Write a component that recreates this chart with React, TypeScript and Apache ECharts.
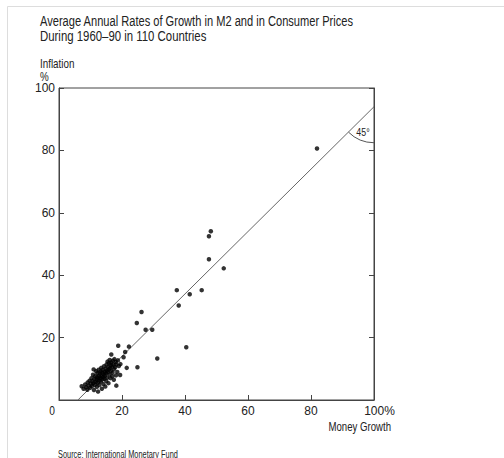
import React, { useEffect, useRef } from "react";
import * as echarts from "echarts";

const FONT = "'Liberation Sans', Arial, sans-serif";

const titleLines = [
  "Average Annual Rates of Growth in M2 and in Consumer Prices",
  "During 1960\u201390 in 110 Countries",
];
const yAxisTitle = ["Inflation", "%"];
const xAxisTitle = "Money Growth";
const sourceText = "Source: International Monetary Fund";
const angleLabel = "45\u00b0";

const xTicks = [0, 20, 40, 60, 80, 100];
const yTicks = [0, 20, 40, 60, 80, 100];

// 45 degree reference line endpoints [moneyGrowth, inflation]
const refLine: [number, number][] = [
  [6, 0],
  [100, 94],
];

// Outlying countries
const outliers: [number, number][] = [
  [81.9, 80.6], [48.2, 54.1], [47.6, 52.5], [47.6, 45.1], [52.3, 42.2],
  [45.3, 35.2], [41.5, 33.9], [37.4, 35.2], [38.0, 30.3], [40.4, 16.9],
  [31.2, 13.3], [26.2, 28.2], [24.7, 24.7], [27.5, 22.5], [29.6, 22.5],
  [22.2, 17.1], [18.8, 17.4], [16.6, 14.6], [21.0, 15.4], [20.5, 13.7],
  [24.9, 10.5], [21.5, 10.3], [19.5, 11.5], [19.4, 8.0], [18.2, 4.6],
];

// Dense cluster of countries
const cluster: [number, number][] = [
  [7.2, 4.4], [7.8, 3.6], [8.3, 5.0], [8.6, 4.1], [9.0, 3.3], [9.1, 5.6], [9.4, 4.6], [9.7, 6.2], [9.9, 3.9], [10.1, 5.2],
  [10.3, 7.0], [10.5, 4.5], [10.6, 6.0], [10.8, 8.1], [10.9, 5.4], [11.1, 3.2], [11.2, 6.7], [11.4, 4.9], [11.5, 7.6], [11.7, 5.8],
  [11.8, 9.2], [11.9, 6.5], [12.0, 4.2], [12.1, 7.3], [12.2, 8.6], [12.3, 5.5], [12.4, 2.7], [12.5, 6.9], [12.6, 9.7], [12.7, 7.8],
  [12.8, 4.8], [12.9, 6.2], [13.0, 8.4], [13.1, 7.0], [13.2, 9.1], [13.3, 5.9], [13.4, 10.3], [13.5, 7.6], [13.6, 3.6], [13.7, 8.8],
  [13.8, 6.6], [13.9, 9.6], [14.0, 7.3], [14.1, 5.1], [14.2, 8.2], [14.3, 10.8], [14.4, 6.8], [14.5, 9.0], [14.6, 7.8], [14.7, 4.3],
  [14.8, 10.0], [14.9, 8.6], [15.0, 6.1], [15.1, 11.4], [15.2, 9.4], [15.3, 7.2], [15.4, 12.3], [15.5, 8.9], [15.6, 10.6], [15.7, 5.4],
  [15.8, 9.8], [15.9, 11.8], [16.0, 8.2], [16.1, 12.8], [16.2, 10.2], [16.3, 7.0], [16.4, 11.2], [16.5, 9.3], [16.6, 12.0], [16.8, 10.7],
  [17.0, 8.8], [17.1, 12.6], [17.3, 11.3], [17.5, 9.9], [17.6, 13.1], [17.8, 10.5], [18.0, 12.2], [18.2, 11.4], [18.5, 9.0], [18.7, 12.7],
  [19.0, 10.9], [17.4, 6.5], [16.9, 7.6], [18.1, 7.9], [11.0, 9.8],
];

const TEXT = "#222";
const AXIS = "#444";

export default function App() {
  const ref = useRef<HTMLDivElement>(null);
  useEffect(() => {
    if (!ref.current) return;
    const chart = echarts.init(ref.current, null, { renderer: "svg" });
    const axisCommon = {
      type: "value" as const,
      min: 0,
      max: 100,
      interval: 20,
      splitLine: { show: false },
      axisLine: { show: true, lineStyle: { color: AXIS, width: 1 } },
      axisTick: { show: true, inside: true, length: 5, lineStyle: { color: AXIS } },
    };
    chart.setOption({
      animation: false,
      backgroundColor: "#fff",
      grid: {
        left: 59,
        top: 88,
        width: 315,
        height: 312,
        show: true,
        borderColor: AXIS,
        borderWidth: 1,
        backgroundColor: "transparent",
      },
      xAxis: {
        ...axisCommon,
        axisLabel: {
          margin: 5,
          color: TEXT,
          fontFamily: FONT,
          fontSize: 12,
          showMinLabel: true,
          showMaxLabel: true,
          formatter: (v: number) =>
            v === xTicks[0] ? "" : v === xTicks[xTicks.length - 1] ? "{p|" + v + "%}" : String(v),
          rich: { p: { fontFamily: FONT, fontSize: 12, color: TEXT, padding: [0, 0, 0, 11] } },
        },
      },
      yAxis: [
        {
          ...axisCommon,
          axisLabel: {
            margin: 4,
            color: TEXT,
            fontFamily: FONT,
            fontSize: 12,
            formatter: (v: number) => (v === yTicks[0] ? "" : String(v)),
          },
        },
        {
          ...axisCommon,
          position: "right",
          axisLabel: { show: false },
        },
      ],
      series: [
        {
          type: "line",
          data: refLine,
          symbol: "none",
          silent: true,
          lineStyle: { color: "#666", width: 1 },
          z: 1,
        },
        {
          type: "scatter",
          data: [...outliers, ...cluster],
          symbol: "circle",
          symbolSize: 4.5,
          itemStyle: { color: "#000" },
          z: 3,
        },
      ],
    });
    const p = chart.convertToPixel({ gridIndex: 0 }, refLine[1]) as number[];
    const ex = p[0];
    const ey = p[1];
    const narrowText = (text: string, x: number, y: number, size: number, scale: number, align = "left") => ({
      type: "text",
      x,
      y,
      scaleX: scale,
      style: { text, fill: TEXT, font: size + "px " + FONT, align, verticalAlign: "middle" },
    });
    chart.setOption({
      graphic: [
        {
          type: "rect",
          shape: { x: 7.5, y: 6.5, width: 700, height: 700 },
          style: { fill: "none", stroke: "#ddd", lineWidth: 1 },
          silent: true,
        },
        narrowText(titleLines[0], 40, 20.5, 15, 0.74),
        narrowText(titleLines[1], 40, 35.7, 15, 0.76),
        narrowText(yAxisTitle[0], 40, 63.5, 12, 0.82),
        narrowText(yAxisTitle[1], 40, 76.3, 12, 0.82),
        narrowText("0", 52, 410.5, 12, 0.85, "center"),
        narrowText(xAxisTitle, 391, 426.3, 13, 0.74, "right"),
        narrowText(sourceText, 58, 455, 10, 0.74),
        {
          type: "arc",
          shape: { cx: ex, cy: ey, r: 36, startAngle: Math.PI / 2, endAngle: (Math.PI * 3) / 4, clockwise: true },
          style: { stroke: "#555", lineWidth: 1, fill: "none" },
          silent: true,
        },
        narrowText(angleLabel, ex - 11, ey + 25, 11, 0.8, "center"),
      ],
    });
    return () => chart.dispose();
  }, []);
  return (
    <div
      ref={ref}
      style={{ position: "absolute", left: 0, top: 0, width: 504, height: 458 }}
    />
  );
}
